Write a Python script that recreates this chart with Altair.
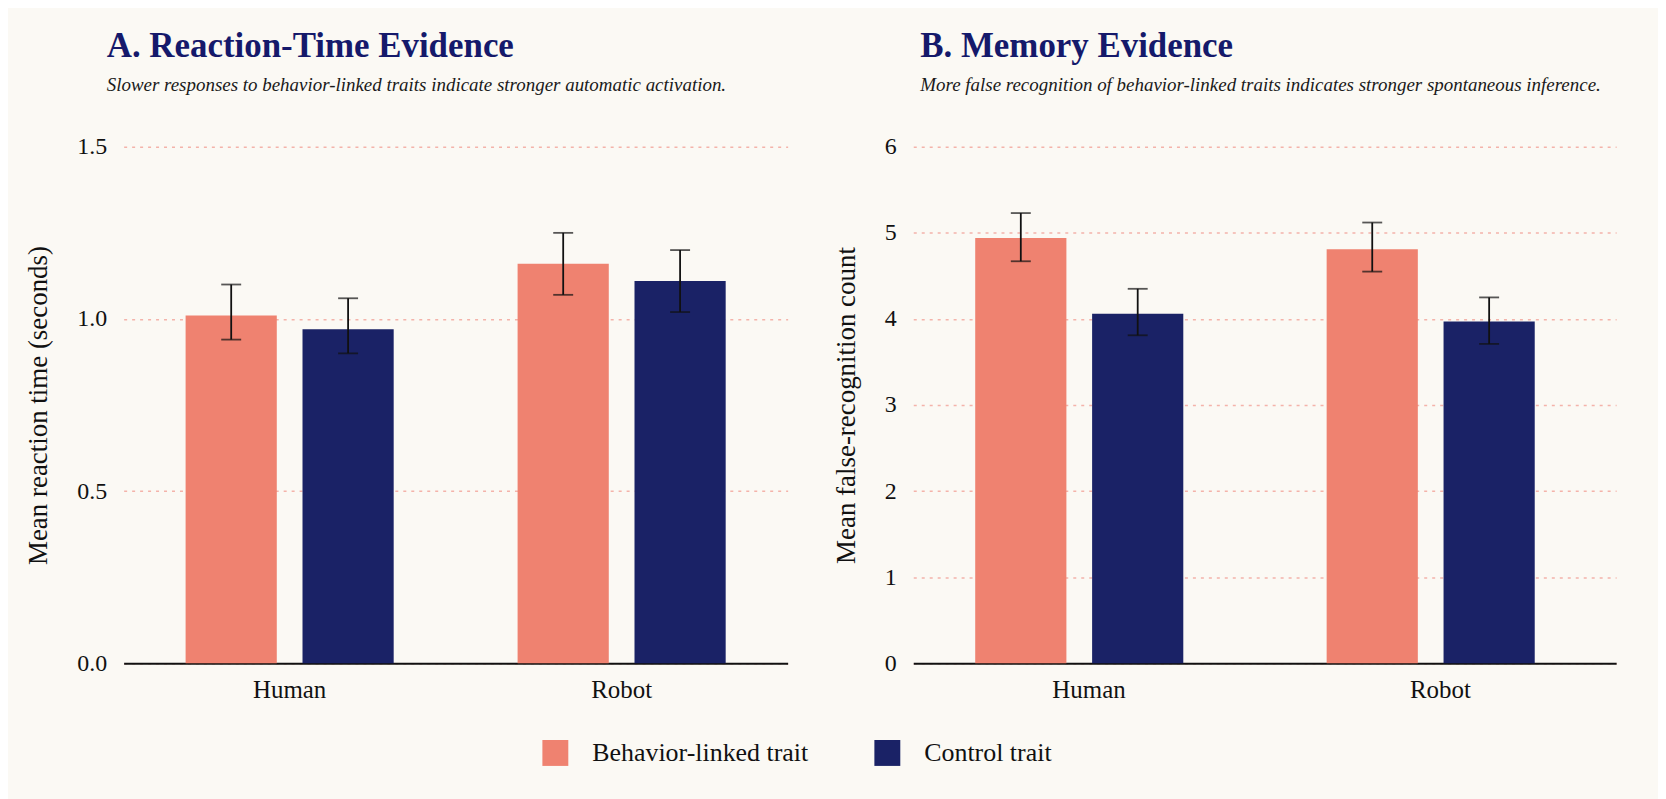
import altair as alt
import pandas as pd

groups = ["Human", "Robot"]
traits = ["Behavior-linked trait", "Control trait"]

rt_group = ["Human", "Human", "Robot", "Robot"]
rt_trait = ["Behavior-linked trait", "Control trait", "Behavior-linked trait", "Control trait"]
rt_mean = [1.01, 0.97, 1.16, 1.11]
rt_lo = [0.94, 0.90, 1.07, 1.02]
rt_hi = [1.10, 1.06, 1.25, 1.20]

mem_group = ["Human", "Human", "Robot", "Robot"]
mem_trait = ["Behavior-linked trait", "Control trait", "Behavior-linked trait", "Control trait"]
mem_mean = [4.94, 4.06, 4.81, 3.97]
mem_lo = [4.67, 3.81, 4.55, 3.71]
mem_hi = [5.23, 4.35, 5.12, 4.25]

rt_ticks = [0.0, 0.5, 1.0, 1.5]
mem_ticks = [0, 1, 2, 3, 4, 5, 6]

SALMON = "#ef8270"
NAVY = "#1a2266"
TITLE_COLOR = "#15196b"
FONT = "Liberation Serif"

rt_df = pd.DataFrame({"group": rt_group, "trait": rt_trait, "mean": rt_mean, "lo": rt_lo, "hi": rt_hi})
mem_df = pd.DataFrame({"group": mem_group, "trait": mem_trait, "mean": mem_mean, "lo": mem_lo, "hi": mem_hi})


def panel(df, title, subtitle, ytitle, ticks, fmt, width, po, dx):
    x = alt.X("group:N", sort=groups, title=None,
              scale=alt.Scale(paddingInner=0, paddingOuter=0),
              axis=alt.Axis(labelAngle=0, ticks=False, domainColor="#111111", domainWidth=2,
                            labelPadding=14, labelFontSize=25, labelFont=FONT, labelColor="#111111"))
    xo = alt.XOffset("trait:N", sort=traits, scale=alt.Scale(paddingInner=0.22, paddingOuter=po))
    yscale = alt.Scale(domain=[ticks[0], ticks[-1]], nice=False)
    y = alt.Y("mean:Q", title=ytitle, scale=yscale,
              axis=alt.Axis(values=ticks, format=fmt, domain=False, ticks=False,
                            grid=True, gridColor="#f4b3aa", gridDash=[3, 5], gridWidth=1.4,
                            labelFontSize=24, labelFont=FONT, labelColor="#111111", labelPadding=17,
                            titleFontSize=27, titleFont=FONT, titleFontWeight="normal",
                            titleColor="#111111", titlePadding=24))
    color = alt.Color("trait:N", sort=traits,
                      scale=alt.Scale(domain=traits, range=[SALMON, NAVY]),
                      legend=alt.Legend(title=None, orient="none", direction="horizontal",
                                        legendX=420, legendY=595,
                                        symbolType="square", symbolSize=676, symbolStrokeWidth=0,
                                        labelFontSize=26, labelFont=FONT, labelColor="#111111",
                                        labelLimit=0, labelOffset=24, columnPadding=66,
                                        symbolOpacity=1))
    base = alt.Chart(df)
    bars = base.mark_bar(opacity=1).encode(x=x, xOffset=xo, y=y, color=color)
    rules = base.mark_rule(color="#111111", strokeWidth=1.8).encode(
        x=x, xOffset=xo, y=alt.Y("lo:Q", scale=yscale), y2="hi:Q")
    tlo = base.mark_tick(color="#111111", size=20, thickness=1.8).encode(
        x=x, xOffset=xo, y=alt.Y("lo:Q", scale=yscale))
    thi = base.mark_tick(color="#111111", size=20, thickness=1.8).encode(
        x=x, xOffset=xo, y=alt.Y("hi:Q", scale=yscale))
    return alt.layer(bars, rules, tlo, thi).properties(
        width=width, height=518,
        title=alt.TitleParams(text=title, subtitle=subtitle, anchor="start", frame="group", dx=dx,
                              font=FONT, fontSize=35, fontWeight="bold", color=TITLE_COLOR,
                              subtitleFont=FONT, subtitleFontSize=19, subtitleFontStyle="italic",
                              subtitleColor="#1a1a1a", subtitlePadding=12, offset=40))


left = panel(rt_df, "A. Reaction-Time Evidence",
             "Slower responses to behavior-linked traits indicate stronger automatic activation.",
             "Mean reaction time (seconds)", rt_ticks, ".1f", 666, 0.53, -17)
right = panel(mem_df, "B. Memory Evidence",
              "More false recognition of behavior-linked traits indicates stronger spontaneous inference.",
              "Mean false-recognition count", mem_ticks, "d", 705, 0.59, 7)

chart = alt.hconcat(left, right, spacing=45).properties(
    background="#fbf9f4",
    padding={"left": 17, "top": 20, "right": 42, "bottom": 40},
).configure_view(stroke=None)

chart.save("out.html", embed_options={"renderer": "svg", "actions": False})
